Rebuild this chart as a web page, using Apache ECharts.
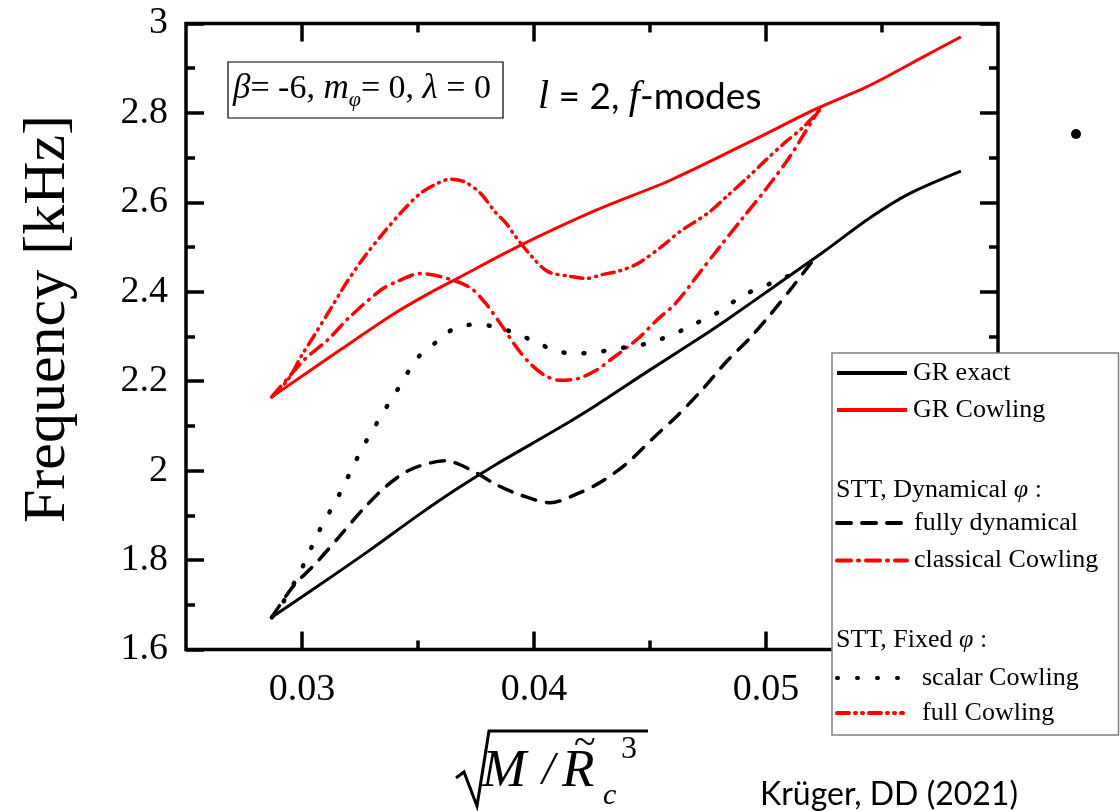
<!DOCTYPE html>
<html>
<head>
<meta charset="utf-8">
<script src="https://cdn.jsdelivr.net/npm/echarts@6/dist/echarts.min.js"></script>
<style>
  html, body { margin: 0; padding: 0; background: #fff; }
  #chart { width: 1120px; height: 811px; }
</style>
</head>
<body>
<div id="chart"></div>
<script>
// l = 2 f-mode frequency [kHz] against compactness sqrt(M / Rc^3)
const xMajorTicks = [0.03, 0.04, 0.05];
const xMinorTicks = [0.035, 0.045, 0.055];

const grExact = [
  [0.0287, 1.672], [0.0310, 1.753], [0.0330, 1.825], [0.0350, 1.900],
  [0.0367, 1.960], [0.0384, 2.015], [0.0410, 2.093], [0.0427, 2.147],
  [0.0449, 2.222], [0.0470, 2.292], [0.0483, 2.337], [0.0505, 2.417],
  [0.0525, 2.490], [0.0545, 2.566], [0.0562, 2.620], [0.0584, 2.670]
];
const grCowling = [
  [0.0287, 2.165], [0.0317, 2.272], [0.0340, 2.352], [0.0356, 2.400],
  [0.0367, 2.430], [0.0393, 2.501], [0.0427, 2.583], [0.0459, 2.650],
  [0.0496, 2.743], [0.0522, 2.810], [0.0542, 2.855], [0.0552, 2.881],
  [0.0568, 2.926], [0.0584, 2.970]
];
const fullyDynamical = [
  [0.0287, 1.672], [0.0296, 1.740], [0.0306, 1.793], [0.0316, 1.852],
  [0.0326, 1.912], [0.0336, 1.964], [0.0347, 2.003], [0.0362, 2.022],
  [0.0373, 2.001], [0.0384, 1.968], [0.0394, 1.946], [0.0407, 1.928],
  [0.0419, 1.949], [0.0429, 1.975], [0.0440, 2.016], [0.0452, 2.076],
  [0.0462, 2.124], [0.0473, 2.184], [0.0483, 2.244], [0.0493, 2.296],
  [0.0502, 2.350], [0.0511, 2.408], [0.0522, 2.482]
];
const classicalCowling = [
  [0.0287, 2.165], [0.0301, 2.248], [0.0311, 2.292], [0.0320, 2.341],
  [0.0334, 2.404], [0.0341, 2.423], [0.0351, 2.441], [0.0359, 2.435],
  [0.0372, 2.411], [0.0379, 2.375], [0.0386, 2.325], [0.0393, 2.272],
  [0.0399, 2.236], [0.0405, 2.212], [0.0411, 2.202], [0.0419, 2.206],
  [0.0427, 2.225], [0.0433, 2.248], [0.0445, 2.296], [0.0453, 2.337],
  [0.0461, 2.374], [0.0471, 2.440], [0.0480, 2.500], [0.0490, 2.565],
  [0.0500, 2.630], [0.0510, 2.700], [0.0517, 2.758], [0.0523, 2.808]
];
const scalarCowling = [
  [0.0287, 1.672], [0.0292, 1.707], [0.0300, 1.782], [0.0307, 1.861],
  [0.0316, 1.946], [0.0324, 2.030], [0.0328, 2.069], [0.0337, 2.147],
  [0.0342, 2.188], [0.0346, 2.223], [0.0351, 2.259], [0.0358, 2.288],
  [0.0364, 2.313], [0.0372, 2.326], [0.0381, 2.324], [0.0389, 2.313],
  [0.0402, 2.285], [0.0409, 2.268], [0.0418, 2.262], [0.0427, 2.265],
  [0.0435, 2.272], [0.0450, 2.286], [0.0463, 2.312], [0.0470, 2.330],
  [0.0478, 2.350], [0.0491, 2.394], [0.0509, 2.434], [0.0514, 2.450]
];
const fullCowling = [
  [0.0287, 2.165], [0.0294, 2.204], [0.0300, 2.259], [0.0305, 2.300],
  [0.0312, 2.359], [0.0319, 2.419], [0.0327, 2.479], [0.0335, 2.531],
  [0.0343, 2.579], [0.0351, 2.620], [0.0359, 2.644], [0.0364, 2.652],
  [0.0370, 2.646], [0.0377, 2.620], [0.0383, 2.580], [0.0388, 2.553],
  [0.0392, 2.524], [0.0399, 2.479], [0.0406, 2.445], [0.0415, 2.435],
  [0.0423, 2.430], [0.0429, 2.438], [0.0437, 2.447], [0.0445, 2.464],
  [0.0455, 2.501], [0.0463, 2.535], [0.0475, 2.576], [0.0483, 2.613],
  [0.0492, 2.655], [0.0500, 2.695], [0.0508, 2.733], [0.0516, 2.768],
  [0.0523, 2.805]
];

const RED = '#ff0000';
const BLACK = '#000000';
const SERIF = '"Liberation Serif", "Times New Roman", serif';
const SANS = 'Lato, "Noto Sans", sans-serif';

const chart = echarts.init(document.getElementById('chart'), null, { renderer: 'canvas' });

function curve(name, data, color, width, dash) {
  return {
    name: name,
    type: 'line',
    data: data,
    xAxisIndex: 0,
    yAxisIndex: 0,
    smooth: 0.3,
    symbol: 'none',
    showSymbol: false,
    silent: true,
    lineStyle: { color: color, width: width, type: dash, cap: dash === 'solid' ? 'butt' : 'round' },
    itemStyle: { color: color }
  };
}

function xAxisDef(position, ticks, len, showLabels) {
  return {
    type: 'value', position: position, min: 0.025, max: 0.06,
    axisLine: { show: false },
    splitLine: { show: false },
    axisTick: {
      show: true, inside: true, length: len, customValues: ticks,
      lineStyle: { color: BLACK, width: 3.5 }
    },
    axisLabel: {
      show: showLabels, customValues: ticks, margin: 22,
      fontFamily: SERIF, fontSize: 38, color: BLACK
    }
  };
}

function yAxisDef(position, showLabels) {
  return {
    type: 'value', position: position, min: 1.6, max: 3.0, interval: 0.2,
    axisLine: { show: false },
    splitLine: { show: false },
    axisTick: { show: true, inside: true, length: 18, lineStyle: { color: BLACK, width: 3.5 } },
    minorTick: { show: true, splitNumber: 2, length: 9, lineStyle: { color: BLACK, width: 3.5 } },
    axisLabel: { show: showLabels, margin: 18, fontFamily: SERIF, fontSize: 38, color: BLACK }
  };
}

const legendText = { fontFamily: SERIF, fontSize: 26, lineHeight: 30, color: BLACK };
function legendDef(names, top, gap, itemWidth, textPad) {
  return {
    data: names, orient: 'vertical', left: 835, top: top,
    padding: 0, itemGap: gap, itemWidth: itemWidth, itemHeight: 14,
    selectedMode: false, z: 120,
    itemStyle: { opacity: 0, borderWidth: 0 },
    lineStyle: { width: 4 },
    textStyle: Object.assign({ padding: [0, 0, 0, textPad] }, legendText)
  };
}

const option = {
  animation: false,
  backgroundColor: '#ffffff',
  grid: {
    left: 186, top: 23.5, right: 122, bottom: 161.5,
    show: true, borderColor: BLACK, borderWidth: 3.5, backgroundColor: 'transparent'
  },
  xAxis: [
    xAxisDef('bottom', xMajorTicks, 18, true),
    xAxisDef('bottom', xMinorTicks, 9, false),
    xAxisDef('top', xMajorTicks, 18, false),
    xAxisDef('top', xMinorTicks, 9, false)
  ],
  yAxis: [
    yAxisDef('left', true),
    yAxisDef('right', false)
  ],
  legend: [
    legendDef(['GR exact', 'GR Cowling'], 358, 7, 70, 1),
    legendDef(['fully dynamical', 'classical Cowling'], 508, 7.5, 70, 2),
    legendDef(['scalar Cowling', 'full Cowling'], 663, 5, 66, 14)
  ],
  series: [
    curve('GR exact', grExact, BLACK, 3, 'solid'),
    curve('GR Cowling', grCowling, RED, 3, 'solid'),
    curve('fully dynamical', fullyDynamical, BLACK, 3.5, [14, 11]),
    curve('classical Cowling', classicalCowling, RED, 3.5, [14, 7, 1, 7]),
    curve('scalar Cowling', scalarCowling, BLACK, 4.5, [1, 19]),
    curve('full Cowling', fullCowling, RED, 3.5, [12, 6, 1, 6, 1, 6])
  ],
  graphic: [
    // vertical axis title
    {
      type: 'text', x: 48, y: 319, rotation: Math.PI / 2,
      style: { text: 'Frequency [kHz]', font: '60px ' + SERIF, fill: BLACK, align: 'center', verticalAlign: 'middle' }
    },
    // horizontal axis title: sqrt(M / R~_c^3)
    {
      type: 'polyline',
      shape: { points: [[456, 778], [464, 772], [477, 806], [489, 731], [648, 731]] },
      style: { stroke: BLACK, lineWidth: 3, fill: null, lineJoin: 'miter' }
    },
    { type: 'text', x: 482, y: 772, style: { text: 'M', font: 'italic 53px ' + SERIF, fill: BLACK, verticalAlign: 'middle' } },
    { type: 'text', x: 542, y: 772, style: { text: '/', font: 'italic 46px ' + SERIF, fill: BLACK, verticalAlign: 'middle' } },
    { type: 'text', x: 562, y: 772, style: { text: 'R', font: 'italic 53px ' + SERIF, fill: BLACK, verticalAlign: 'middle' } },
    { type: 'text', x: 574, y: 744, style: { text: '~', font: '40px ' + SERIF, fill: BLACK, verticalAlign: 'middle' } },
    { type: 'text', x: 603, y: 796, style: { text: 'c', font: 'italic 30px ' + SERIF, fill: BLACK, verticalAlign: 'middle' } },
    { type: 'text', x: 621, y: 750, style: { text: '3', font: '32px ' + SERIF, fill: BLACK, verticalAlign: 'middle' } },
    // parameter box
    {
      type: 'rect', shape: { x: 228, y: 62, width: 275, height: 56 },
      style: { fill: '#fff', stroke: BLACK, lineWidth: 1.2 }, z: 50
    },
    {
      type: 'text', x: 233, y: 89, z: 51,
      style: {
        text: '{b|β}{r|= -6, }{b|m}{s|φ}{r|= 0, }{b|λ}{r| = 0}',
        verticalAlign: 'middle', fill: BLACK,
        rich: {
          r: { font: '34px ' + SERIF, lineHeight: 44, verticalAlign: 'middle' },
          b: { font: 'italic 35px ' + SERIF, lineHeight: 44, verticalAlign: 'middle' },
          s: { font: 'italic 22px ' + SERIF, verticalAlign: 'bottom' }
        }
      }
    },
    // mode label
    {
      type: 'text', x: 538, y: 97, z: 51,
      style: {
        text: '{i|l}{r| = 2, }{i|f}{r|-modes}',
        verticalAlign: 'middle', fill: BLACK,
        rich: {
          i: { font: 'italic 40px ' + SERIF, verticalAlign: 'middle' },
          r: { font: '37px ' + SANS, verticalAlign: 'middle' }
        }
      }
    },
    // bullet
    { type: 'circle', shape: { cx: 1076, cy: 134, r: 5 }, style: { fill: BLACK } },
    // legend frame and group headings
    {
      type: 'rect', z: 100, shape: { x: 832, y: 353, width: 286.5, height: 382 },
      style: { fill: '#fff', stroke: '#808080', lineWidth: 1.5 }
    },
    {
      type: 'text', x: 836, y: 490, z: 110,
      style: {
        text: '{r|STT, Dynamical }{i|φ}{r| :}', verticalAlign: 'middle', fill: BLACK,
        rich: { r: { font: '26px ' + SERIF }, i: { font: 'italic 26px ' + SERIF } }
      }
    },
    {
      type: 'text', x: 836, y: 640, z: 110,
      style: {
        text: '{r|STT, Fixed }{i|φ}{r| :}', verticalAlign: 'middle', fill: BLACK,
        rich: { r: { font: '26px ' + SERIF }, i: { font: 'italic 26px ' + SERIF } }
      }
    },
    // source note
    {
      type: 'text', x: 760, y: 795,
      style: { text: 'Krüger, DD (2021)', font: '32px ' + SANS, fill: BLACK, verticalAlign: 'middle' }
    }
  ]
};

chart.setOption(option);
</script>
</body>
</html>
